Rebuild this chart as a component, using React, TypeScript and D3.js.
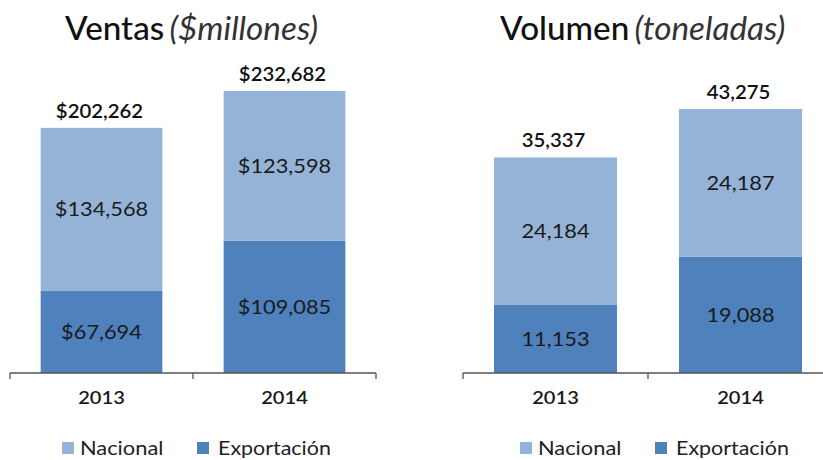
import React from "react";
import * as d3 from "d3";

const years = ["2013", "2014"];
const ventasExport = [67694, 109085];
const ventasNacional = [134568, 123598];
const ventasTotal = [202262, 232682];
const volumenExport = [11153, 19088];
const volumenNacional = [24184, 24187];
const volumenTotal = [35337, 43275];
const seriesNames = ["Nacional", "Exportación"];
const colors = ["#95b3d7", "#4f81bd"];

const FONT = "Lato, 'Open Sans', sans-serif";

// stretched text, the source picture is a bit wider than tall
function T(props: any) {
  const { x, y, sx = 1.1, children, ...rest } = props;
  return (
    <text transform={`translate(${x},${y}) scale(${sx},1)`} fontFamily={FONT} {...rest}>
      {children}
    </text>
  );
}

type PanelProps = {
  title: string;
  sub: string;
  titleX: number;
  exp: number[];
  nac: number[];
  tot: number[];
  max: number;
  x0: number;
  x1: number;
  top: number;
  prefix: string;
  legendX: number;
};

function Panel(p: PanelProps) {
  const base = 373;
  const y = d3.scaleLinear().domain([0, p.max]).range([base, p.top]);
  const x = d3.scaleBand().domain(years).range([p.x0, p.x1]).padding(0);
  const bw = x.bandwidth() * 0.665;
  const fmt = (v: number) => p.prefix + d3.format(",")(v);
  const stack = d3.stack<any>().keys(["exp", "nac"])(
    years.map((yr, i) => ({ year: yr, exp: p.exp[i], nac: p.nac[i] }))
  );

  return (
    <g>
      <T x={p.titleX} y={40} sx={1.04} fontSize={32} fill="#111">
        <tspan fontWeight={500}>{p.title}</tspan>
        <tspan fontStyle="italic" fill="#333" dx={5}>{p.sub}</tspan>
      </T>
      {stack.map((layer, li) =>
        layer.map((d, i) => {
          const cx = (x(years[i]) ?? 0) + x.bandwidth() / 2;
          return (
            <g key={li + "-" + i}>
              <rect
                x={cx - bw / 2}
                y={y(d[1])}
                width={bw}
                height={y(d[0]) - y(d[1])}
                fill={li === 0 ? colors[1] : colors[0]}
              />
              <T
                x={cx}
                y={(y(d[0]) + y(d[1])) / 2 + 7}
                sx={1.09}
                textAnchor="middle"
                fontSize={20}
                fill="#1a1a1a"
              >
                {fmt(d[1] - d[0])}
              </T>
            </g>
          );
        })
      )}
      {years.map((yr, i) => {
        const cx = (x(yr) ?? 0) + x.bandwidth() / 2;
        const top = y(p.exp[i] + p.nac[i]);
        return (
          <g key={yr}>
            <T x={cx - 2} y={top - 10} sx={1.1} textAnchor="middle" fontSize={18.5} fontWeight={600} fill="#111">
              {fmt(p.tot[i])}
            </T>
            <T x={cx} y={404} sx={1.15} textAnchor="middle" fontSize={17.5} fontWeight={600} fill="#1a1a1a">
              {yr}
            </T>
          </g>
        );
      })}
      <line x1={p.x0} x2={p.x1} y1={base} y2={base} stroke="#555" strokeWidth={1.3} />
      {[0, 1, 2].map((k) => {
        const tx = p.x0 + k * x.step();
        return <line key={k} x1={tx} x2={tx} y1={base} y2={base + 6} stroke="#555" strokeWidth={1.3} />;
      })}
      <g transform={`translate(${p.legendX},0)`}>
        <rect x={0} y={442} width={12} height={12} fill={colors[0]} />
        <T x={18} y={455} sx={1.12} fontSize={19.5} fill="#222">{seriesNames[0]}</T>
        <rect x={135} y={442} width={12} height={12} fill={colors[1]} />
        <T x={156} y={455} sx={1.1} fontSize={19.5} fill="#222">{seriesNames[1]}</T>
      </g>
    </g>
  );
}

export default function App() {
  return (
    <svg
      width={823}
      height={460}
      style={{ position: "absolute", left: 0, top: 0, background: "#fff" }}
    >
      <Panel
        title="Ventas"
        sub="($millones)"
        titleX={65}
        exp={ventasExport}
        nac={ventasNacional}
        tot={ventasTotal}
        max={250000}
        x0={10}
        x1={376}
        top={70}
        prefix="$"
        legendX={62}
      />
      <Panel
        title="Volumen"
        sub="(toneladas)"
        titleX={500}
        exp={volumenExport}
        nac={volumenNacional}
        tot={volumenTotal}
        max={50000}
        x0={463}
        x1={833}
        top={68}
        prefix=""
        legendX={520}
      />
    </svg>
  );
}
